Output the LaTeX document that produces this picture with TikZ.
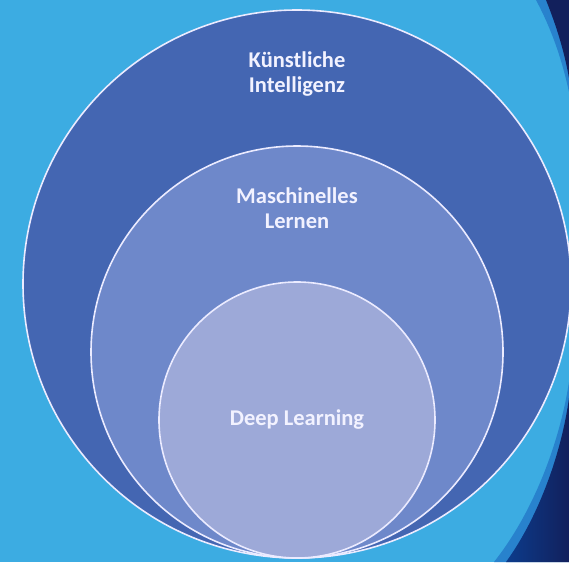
\documentclass[tikz,border=0pt]{standalone}
\usepackage{fontspec}
\setmainfont{Carlito}
\begin{document}
\begin{tikzpicture}[x=1pt,y=-1pt,
  ring/.style={draw=white!92!blue, line width=1.6pt},
  lbl/.style={text=white!95!blue, font=\bfseries\fontsize{22.5}{24.5}\selectfont, align=center}]
\definecolor{bgblue}{RGB}{60,172,226}
\definecolor{glow}{RGB}{40,130,205}
\definecolor{navyA}{RGB}{18,32,92}
\definecolor{navyB}{RGB}{12,60,140}
\definecolor{outerc}{RGB}{68,102,178}
\definecolor{midc}{RGB}{110,136,202}
\definecolor{innerc}{RGB}{157,169,216}
\useasboundingbox (0,0) rectangle (569,562);
\clip (0,0) rectangle (569,562);
\fill[bgblue] (0,0) rectangle (569,562);
% swooshes
\fill[glow] (536,0) .. controls (552,30) and (562,60) .. (569,92) -- (569,0) -- cycle;
\fill[navyA] (546,0) .. controls (556,25) and (564,50) .. (569,78) -- (569,0) -- cycle;
\fill[glow] (569,382) .. controls (560,440) and (535,510) .. (494,562) -- (569,562) -- cycle;
\shade[left color=navyB, right color=navyA] (569,398) .. controls (562,450) and (540,515) .. (506,562) -- (569,562) -- cycle;
% circles
\coordinate (c1) at (297,284);
\coordinate (c2) at (297,352);
\coordinate (c3) at (297,420);
\filldraw[ring, fill=outerc] (c1) circle[radius=274pt];
\filldraw[ring, fill=midc] (c2) circle[radius=206pt];
\filldraw[ring, fill=innerc] (c3) circle[radius=138pt];
\node[lbl] (ki) at (297,74) {Künstliche\\Intelligenz};
\node[lbl] (ml) at (297,208) {Maschinelles\\Lernen};
\node[lbl] (dl) at (297,420) {Deep Learning};
\end{tikzpicture}
\end{document}
